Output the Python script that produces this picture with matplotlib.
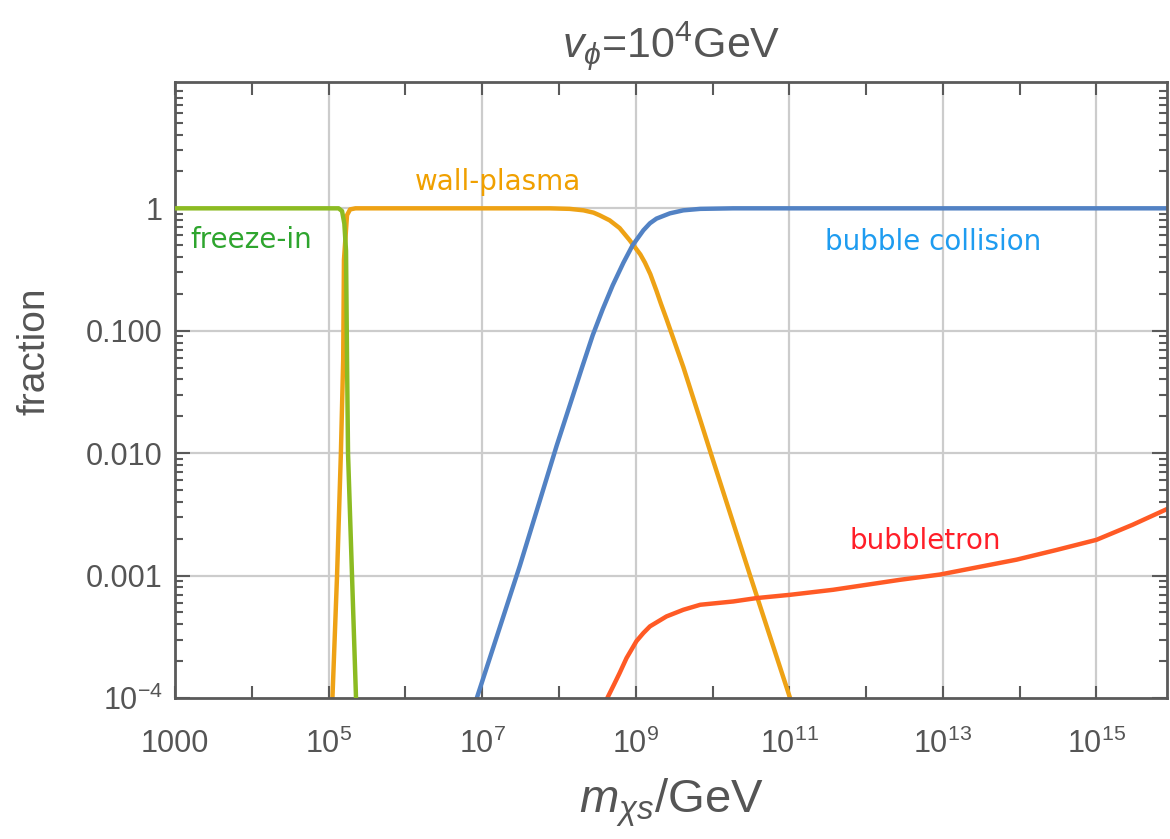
import numpy as np
import matplotlib
matplotlib.use("Agg")
import matplotlib.pyplot as plt
from matplotlib.ticker import FixedLocator, FixedFormatter, NullFormatter

plt.rcParams['font.family'] = ['Liberation Sans', 'DejaVu Sans']
plt.rcParams['mathtext.fontset'] = 'custom'
plt.rcParams['mathtext.rm'] = 'Liberation Sans'
plt.rcParams['mathtext.it'] = 'Liberation Sans:italic'

# values (log10 of mass in GeV, fraction)
freeze_logm = [3.0, 5.13, 5.175, 5.205, 5.227, 5.240, 5.253, 5.305, 5.357]
freeze_frac = [1.0, 1.0, 0.95, 0.75, 0.45, 0.058, 0.01, 0.001, 1.0e-4]

wall_logm = [5.05, 5.11, 5.16, 5.19, 5.20, 5.24, 5.28, 5.35, 7.6, 7.88, 8.14, 8.32, 8.45,
             8.53, 8.66, 8.79, 8.92, 9.06, 9.12, 9.19, 9.27, 9.33, 9.40, 9.62, 9.84, 9.975,
             10.49, 11.01]
wall_frac = [1e-4, 1e-3, 0.01, 0.058, 0.38, 0.88, 0.98, 1.0, 1.0, 1.0, 0.99, 0.963, 0.922,
             0.877, 0.798, 0.69, 0.55, 0.42, 0.36, 0.29, 0.212, 0.165, 0.125, 0.0505, 0.0187, 0.0101,
             1.0e-3, 1.0e-4]

coll_logm = [6.93, 7.49, 7.97, 8.14, 8.30, 8.44, 8.57, 8.70, 8.84, 8.96, 9.10, 9.185, 9.27,
             9.445, 9.62, 9.84, 10.27, 15.92]
coll_frac = [1.0e-4, 1.2e-3, 0.0115, 0.0245, 0.050, 0.092, 0.15, 0.235, 0.36, 0.50, 0.662,
             0.755, 0.824, 0.91, 0.963, 0.99, 1.0, 1.0]

tron_logm = [8.63, 8.72, 8.79, 8.88, 9.01, 9.10, 9.185, 9.40, 9.62, 9.84, 10.27, 10.57, 11.01,
             11.57, 12.44, 12.96, 13.96, 14.48, 15.0, 15.47, 15.92]
tron_frac = [1.0e-4, 1.3e-4, 1.6e-4, 2.12e-4, 2.92e-4, 3.4e-4, 3.85e-4, 4.64e-4, 5.26e-4,
             5.78e-4, 6.15e-4, 6.55e-4, 6.97e-4, 7.66e-4, 9.24e-4, 1.02e-3, 1.35e-3, 1.62e-3,
             1.96e-3, 2.6e-3, 3.5e-3]

x_ticks = [10.0**k for k in range(3, 16)]
x_labels = ['1000'] + [r'$10^{%d}$' % k if k % 2 == 1 else '' for k in range(4, 16)]
y_ticks = [1e-4, 1e-3, 1e-2, 1e-1, 1.0]
y_labels = [r'$10^{-4}$', '0.001', '0.010', '0.100', '1']

blue = '#5282c4'
orange = '#eea215'
green = '#8cbb22'
red = '#ff5a25'
grey = '#5a5a5a'

fig = plt.figure(figsize=(11.7, 8.39), dpi=100)
ax = fig.add_axes([0.1496, 0.168, 0.8479, 0.734])

for gx in x_ticks[2::2]:
    ax.axvline(gx, color='#cccccc', lw=1.6, zorder=0)
for gy in y_ticks[1:]:
    ax.axhline(gy, color='#cccccc', lw=1.6, zorder=0)

lw = 3.2
ax.plot(10.0**np.array(freeze_logm), freeze_frac, color=green, lw=lw, zorder=3)
ax.plot(10.0**np.array(wall_logm), wall_frac, color=orange, lw=lw, zorder=2)
ax.plot(10.0**np.array(coll_logm), coll_frac, color=blue, lw=lw, zorder=2)
ax.plot(10.0**np.array(tron_logm), tron_frac, color=red, lw=lw, zorder=2)

ax.set_xscale('log')
ax.set_yscale('log')
ax.set_xlim(1e3, 10**15.92)
ax.set_ylim(1e-4, 10**1.03)

ax.xaxis.set_major_locator(FixedLocator(x_ticks))
ax.xaxis.set_major_formatter(FixedFormatter(x_labels))
ax.xaxis.set_minor_locator(FixedLocator([]))
ax.yaxis.set_major_locator(FixedLocator(y_ticks))
ax.yaxis.set_major_formatter(FixedFormatter(y_labels))
ax.yaxis.set_minor_formatter(NullFormatter())

ax.tick_params(which='both', direction='in', top=True, right=True, color=grey,
               labelcolor='#555555', labelsize=22, width=1.5)
ax.tick_params(axis='x', which='major', length=9, pad=22)
ax.tick_params(axis='y', which='major', length=11, pad=9)
ax.tick_params(axis='y', which='minor', length=6)
for s in ax.spines.values():
    s.set_color(grey)
    s.set_linewidth(2)

ax.set_title(r'$v_{\phi}$=10$^{4}$GeV', fontsize=31, color='#555555', pad=18)
ax.set_xlabel(r'$m_{\chi s}$/GeV', fontsize=34, color='#555555', labelpad=12)
ax.set_ylabel('fraction', fontsize=28, color='#555555')
ax.yaxis.set_label_coords(-0.124, 0.563)

tfont = dict(family='DejaVu Sans', fontsize=20, va='center', ha='left')
ax.text(10**3.195, 0.548, 'freeze-in', color='#2ea52e', **tfont)
ax.text(10**6.125, 1.63, 'wall-plasma', color='#f0a000', **tfont)
ax.text(10**11.46, 0.528, 'bubble collision', color='#1e9cf0', **tfont)
ax.text(10**11.79, 1.92e-3, 'bubbletron', color='#ff1e28', **tfont)

fig.savefig('out.png', dpi=100)
